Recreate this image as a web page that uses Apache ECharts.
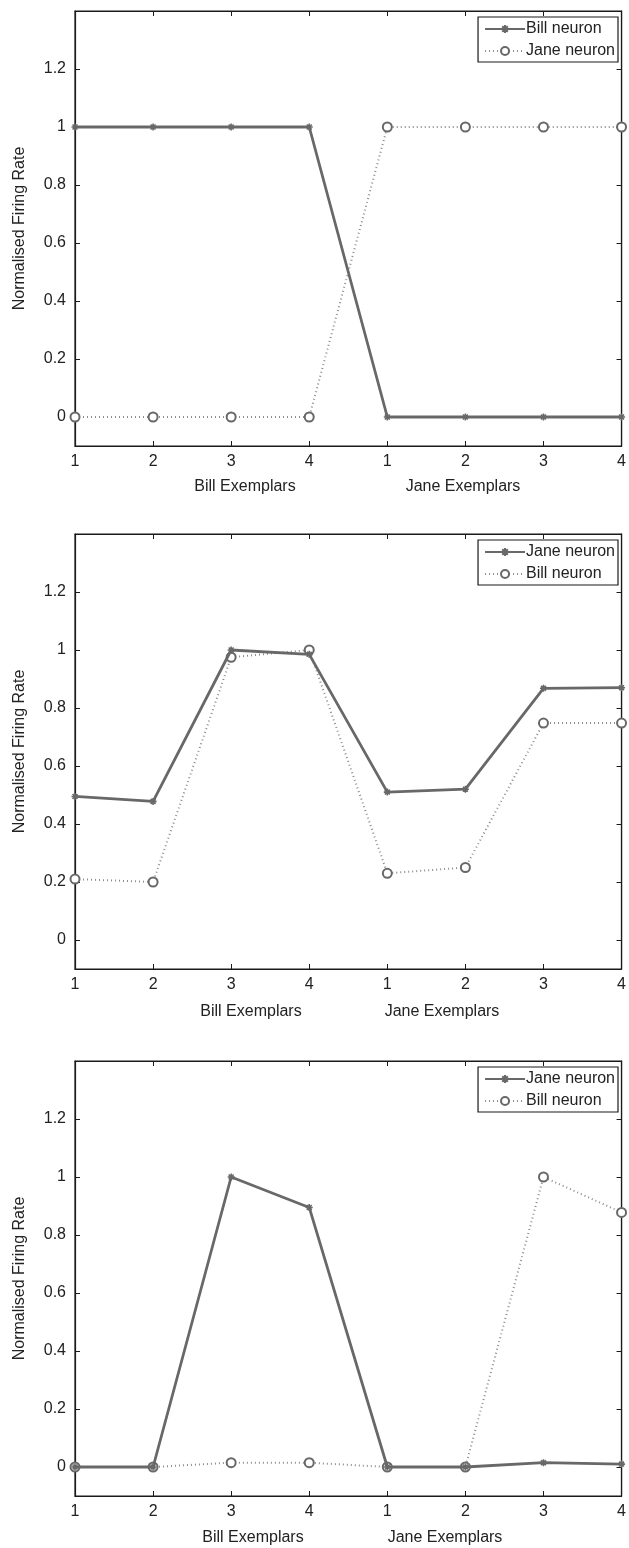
<!DOCTYPE html>
<html><head><meta charset="utf-8">
<script src="https://cdn.jsdelivr.net/npm/echarts@6/dist/echarts.min.js"></script>
<style>html,body{margin:0;padding:0;background:#fff}#c{width:629px;height:1548px}</style>
</head><body><div id="c"></div>
<script>
const categories = ['1','2','3','4','1','2','3','4'];
const yTickValues = [0, 0.2, 0.4, 0.6, 0.8, 1, 1.2];
const yMin = -0.1, yMax = 1.4;
const yTitle = 'Normalised Firing Rate';
const xGroupNames = ['Bill Exemplars', 'Jane Exemplars'];

// Panel 1
const p1Solid = [1, 1, 1, 1, 0, 0, 0, 0];        // Bill neuron
const p1Dotted = [0, 0, 0, 0, 1, 1, 1, 1];       // Jane neuron
// Panel 2
const p2Solid = [0.495, 0.478, 1.0, 0.985, 0.51, 0.52, 0.868, 0.87];   // Jane neuron
const p2Dotted = [0.21, 0.2, 0.975, 1.0, 0.23, 0.25, 0.748, 0.748];    // Bill neuron
// Panel 3
const p3Solid = [0, 0, 1.0, 0.895, 0, 0, 0.015, 0.01];    // Jane neuron
const p3Dotted = [0, 0, 0.015, 0.015, 0, 0, 1.0, 0.878];  // Bill neuron

const panels = [
  {solid: p1Solid, dotted: p1Dotted, solidName: 'Bill neuron', dottedName: 'Jane neuron', top: 11, nameY: 487, nameX: [245, 463]},
  {solid: p2Solid, dotted: p2Dotted, solidName: 'Jane neuron', dottedName: 'Bill neuron', top: 534, nameY: 1012, nameX: [251, 442]},
  {solid: p3Solid, dotted: p3Dotted, solidName: 'Jane neuron', dottedName: 'Bill neuron', top: 1061, nameY: 1538, nameX: [253, 445]}
];

const FONT = 'Liberation Sans';
const LINE = '#686868';
const DOT = '#8c8c8c';
const AX = '#1a1a1a';
const star = 'path://M5,0L5,10M0,5L10,5M1.5,1.5L8.5,8.5M1.5,8.5L8.5,1.5';

const grid = [], xAxis = [], yAxis = [], series = [], legend = [], graphic = [];
const labelMap = {};
panels.forEach((p, i) => {
  grid.push({left: 75, right: 5, top: p.top, height: 435, show: true, borderColor: AX, borderWidth: 1.2, backgroundColor: '#fff'});
  xAxis.push({type: 'category', gridIndex: i, data: categories, boundaryGap: false, position: 'bottom',
    axisLine: {onZero: false, lineStyle: {color: AX, width: 1.2}},
    axisTick: {inside: true, length: 5, alignWithLabel: true, lineStyle: {color: AX}},
    axisLabel: {color: '#222', fontSize: 16, fontFamily: FONT, margin: 8, showMaxLabel: true, showMinLabel: true, interval: 0},
    splitLine: {show: false}});
  xAxis.push({type: 'category', gridIndex: i, data: categories, boundaryGap: false, position: 'top',
    axisLine: {onZero: false, lineStyle: {color: AX, width: 1.2}},
    axisTick: {inside: true, length: 5, interval: 0, lineStyle: {color: AX}},
    axisLabel: {show: false}, splitLine: {show: false}});
  yAxis.push({type: 'value', gridIndex: i, min: yMin, max: yMax, position: 'left',
    name: yTitle, nameLocation: 'middle', nameGap: 47, nameRotate: 90,
    nameTextStyle: {fontSize: 16, fontFamily: FONT, color: '#222'},
    axisLine: {show: true, onZero: false, lineStyle: {color: AX, width: 1.2}},
    axisTick: {show: true, inside: true, length: 5, customValues: yTickValues, lineStyle: {color: AX}},
    axisLabel: {customValues: yTickValues, fontSize: 16, fontFamily: FONT, color: '#222', margin: 9},
    splitLine: {show: false}});
  yAxis.push({type: 'value', gridIndex: i, min: yMin, max: yMax, position: 'right',
    axisLine: {show: true, onZero: false, lineStyle: {color: AX, width: 1.2}},
    axisTick: {show: true, inside: true, length: 5, customValues: yTickValues, lineStyle: {color: AX}},
    axisLabel: {show: false}, splitLine: {show: false}});
  const sId = 'p' + i + 's', dId = 'p' + i + 'd';
  labelMap[sId] = p.solidName; labelMap[dId] = p.dottedName;
  series.push({type: 'line', name: dId, xAxisIndex: 2 * i, yAxisIndex: 2 * i, data: p.dotted,
    symbol: 'emptyCircle', symbolSize: 9, z: 2,
    lineStyle: {color: DOT, width: 2, type: [1, 3]},
    itemStyle: {color: LINE, borderColor: LINE, borderWidth: 3}});
  series.push({type: 'line', name: sId, xAxisIndex: 2 * i, yAxisIndex: 2 * i, data: p.solid,
    symbol: star, symbolSize: 7, z: 3,
    lineStyle: {color: LINE, width: 2.8},
    itemStyle: {color: LINE, borderColor: LINE, borderWidth: 1.6}});
  legend.push({data: [sId, dId], orient: 'vertical', right: 11, top: p.top + 6,
    itemWidth: 40, itemHeight: 10, itemGap: 6,
    padding: [4, 3, 3, 6], borderColor: AX, borderWidth: 1.2, backgroundColor: '#fff',
    textStyle: {fontSize: 16, fontFamily: FONT, color: '#222', padding: [0, 0, 0, -4]},
    formatter: n => labelMap[n], selectedMode: false});
  xGroupNames.forEach((t, k) => {
    graphic.push({type: 'text', x: p.nameX[k], y: p.nameY,
      style: {text: t, font: '16px ' + FONT, fill: '#222', textAlign: 'center', textVerticalAlign: 'middle'}});
  });
});

const chart = echarts.init(document.getElementById('c'), null, {renderer: 'canvas'});
chart.setOption({animation: false, backgroundColor: '#fff', grid, xAxis, yAxis, series, legend, graphic});
</script></body></html>
